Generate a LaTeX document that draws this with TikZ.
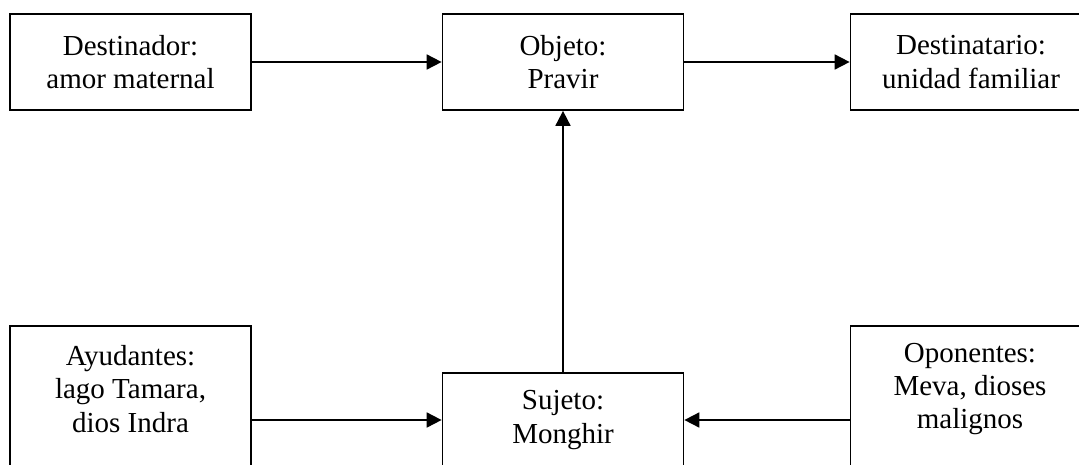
\documentclass[tikz,border=0pt]{standalone}
\usepackage{fontspec}
\setmainfont{Liberation Serif}
\usetikzlibrary{arrows.meta,positioning}

\begin{document}
\begin{tikzpicture}[x=0.02cm, y=-0.02cm,
    actbox/.style={rectangle, draw, line width=1pt, minimum width=4.82cm,
      minimum height=1.92cm, inner sep=0pt, align=center,
      font=\fontsize{16.5}{19}\selectfont},
    actxt/.style={inner sep=0pt, align=center,
      font=\fontsize{16.5}{19}\selectfont},
    flow/.style={-{Triangle[length=0.3cm,width=0.3cm]}, line width=1pt}
  ]
    \useasboundingbox (0,0) rectangle (1079,464);
    \clip (0,0) rectangle (1079,464);

    % Top row
    \node[actbox] (dest) at (130.5,62) {Destinador:\\amor maternal};
    \node[actbox] (obj)  at (563,62)   {Objeto:\\Pravir};
    \node[actbox] (dtar) at (971,62)   {Destinatario:\\unidad familiar};

    % Bottom row -- side boxes run off the page
    \node[actbox, minimum height=1.88cm] (suj) at (563,420) {Sujeto:\\Monghir};
    \node[actbox, minimum height=3cm] (ayud) at (130.5,401) {};
    \node[actxt] (ayudtx) at (130.5,389) {Ayudantes:\\lago Tamara,\\dios Indra};
    \node[actbox, minimum height=3cm] (opon) at (971,401) {};
    \node[actxt] (opontx) at (970,389) {Oponentes:\\Meva, dioses\\malignos};

    % Arrows
    \draw[flow] (dest) -- (obj);
    \draw[flow] (obj) -- (dtar);
    \draw[flow] (suj) -- (obj);
    \draw[flow] (ayud.east |- suj.west) -- (suj.west);
    \draw[flow] (opon.west |- suj.east) -- (suj.east);
  \end{tikzpicture}
\end{document}
